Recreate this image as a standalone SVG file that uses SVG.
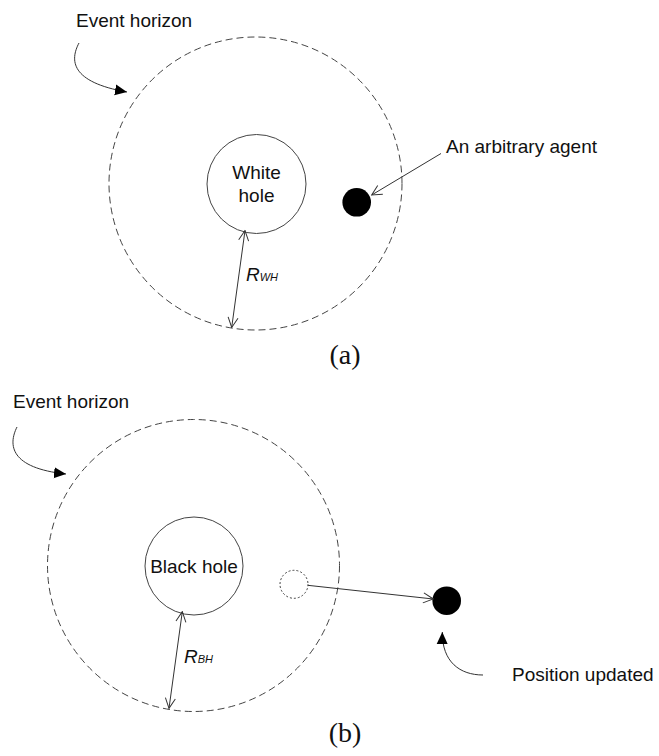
<svg xmlns="http://www.w3.org/2000/svg" width="659" height="756" viewBox="0 0 659 756">
<defs>
<style>
.lbl{font-family:"Liberation Sans",Arial,sans-serif;font-size:19px;fill:#111}
.cap{font-family:"Liberation Serif","Times New Roman",serif;font-size:28px;fill:#111}
.ital{font-family:"Liberation Sans",Arial,sans-serif;font-style:italic;fill:#111}
.horizon{fill:none;stroke:#444;stroke-width:1;stroke-dasharray:7,4}
.hole{fill:#fff;stroke:#444;stroke-width:1}
.agent{fill:#000}
.ghost{fill:none;stroke:#444;stroke-width:1;stroke-dasharray:2,2}
.conn{fill:none;stroke:#333;stroke-width:1}
</style>
<marker id="open" viewBox="0 0 12 12" refX="11" refY="6" markerWidth="12" markerHeight="12" markerUnits="userSpaceOnUse" orient="auto-start-reverse">
<path d="M1,1 L11,6 L1,11" fill="none" stroke="#333" stroke-width="1"/>
</marker>
<marker id="solid" viewBox="0 0 12 12" refX="12" refY="6" markerWidth="12" markerHeight="12" markerUnits="userSpaceOnUse" orient="auto">
<path d="M0,0.5 L12,6 L0,11.5 Z" fill="#000"/>
</marker>
</defs>

<!-- (a) -->
<g id="horizon-a"><circle class="horizon" cx="255.5" cy="183.5" r="146.5"/></g>
<g id="white-hole">
<circle class="hole" cx="256.5" cy="184" r="49.5"/>
<text class="lbl" x="256.5" y="179" text-anchor="middle">White</text>
<text class="lbl" x="256.5" y="202" text-anchor="middle">hole</text>
</g>
<g id="agent-a"><circle class="agent" cx="356.7" cy="202.3" r="14.3"/></g>
<g id="label-horizon-a"><text class="lbl" x="76" y="27">Event horizon</text></g>
<g id="label-agent"><text class="lbl" x="446" y="153">An arbitrary agent</text></g>
<g id="label-rwh"><text class="ital" x="246" y="281" font-size="19">R<tspan font-size="11">WH</tspan></text></g>
<g id="caption-a"><text class="cap" x="345" y="364" text-anchor="middle">(a)</text></g>

<!-- (b) -->
<g id="horizon-b"><circle class="horizon" cx="193.5" cy="565.5" r="146"/></g>
<g id="black-hole">
<circle class="hole" cx="194" cy="566" r="49"/>
<text class="lbl" x="194" y="573" text-anchor="middle">Black hole</text>
</g>
<g id="ghost-agent"><circle class="ghost" cx="294" cy="584.3" r="14"/></g>
<g id="agent-b"><circle class="agent" cx="446.7" cy="600.7" r="14.3"/></g>
<g id="label-horizon-b"><text class="lbl" x="13" y="408">Event horizon</text></g>
<g id="label-position"><text class="lbl" x="512" y="681">Position updated</text></g>
<g id="label-rbh"><text class="ital" x="184" y="663" font-size="19">R<tspan font-size="11">BH</tspan></text></g>
<g id="caption-b"><text class="cap" x="345" y="742" text-anchor="middle">(b)</text></g>

<g id="connectors">
<path class="conn" d="M79,43 C70,60 70,82 127,92" marker-end="url(#solid)"/>
<line class="conn" x1="441" y1="153.5" x2="371.7" y2="195" marker-end="url(#open)"/>
<line class="conn" x1="245" y1="230.5" x2="231.7" y2="327.5" marker-start="url(#open)" marker-end="url(#open)"/>
<path class="conn" d="M17,427 C8,445 10,468 66,474" marker-end="url(#solid)"/>
<line class="conn" x1="307.7" y1="585.3" x2="433.3" y2="599" marker-end="url(#open)"/>
<line class="conn" x1="182.3" y1="611.7" x2="169" y2="708.3" marker-start="url(#open)" marker-end="url(#open)"/>
<path class="conn" d="M483,675 C460,675 442,662 442.3,632" marker-end="url(#solid)"/>
</g>
</svg>
